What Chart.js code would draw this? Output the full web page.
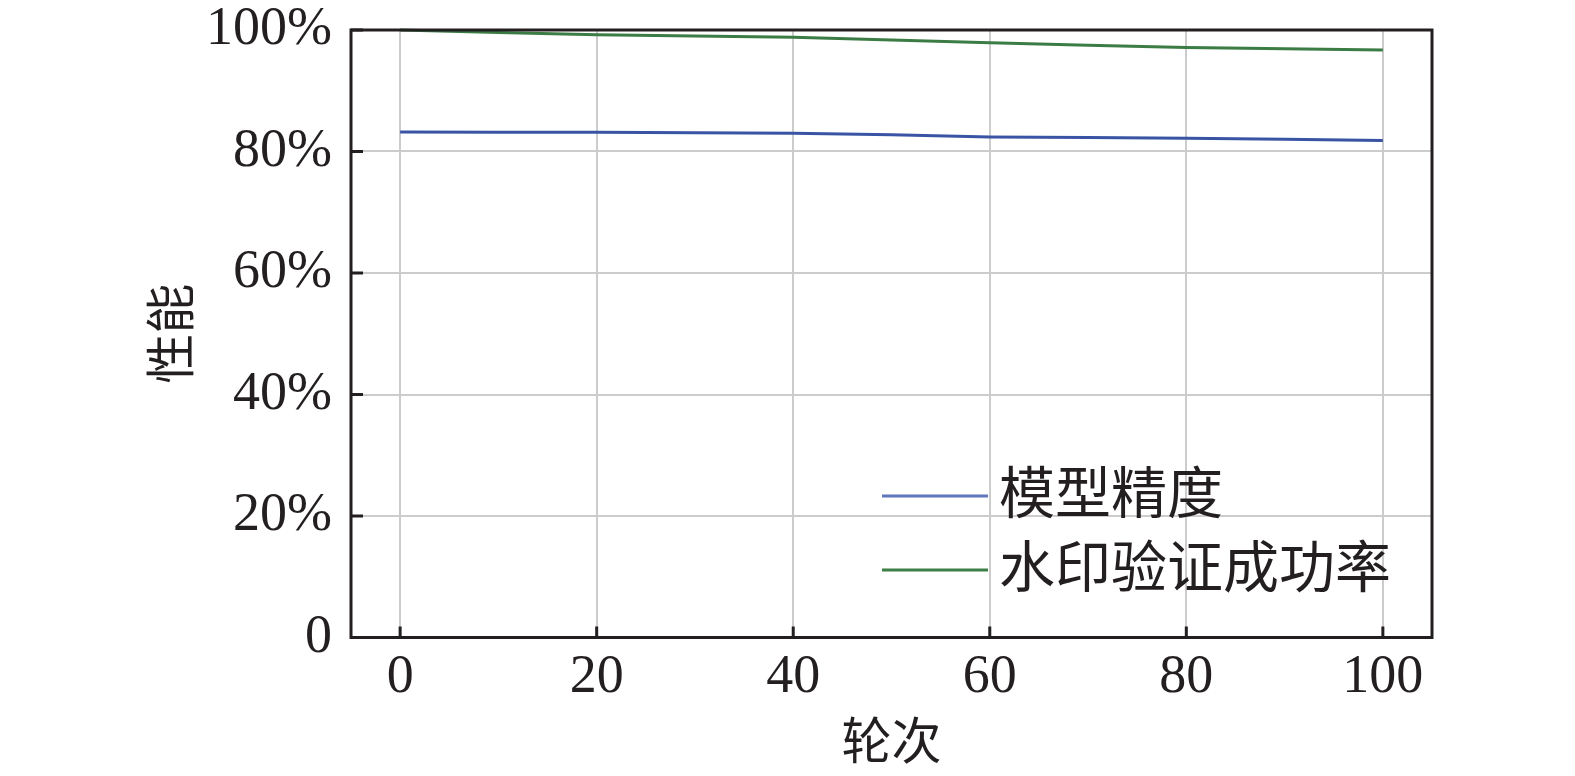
<!DOCTYPE html>
<html>
<head>
<meta charset="utf-8">
<script src="https://cdn.jsdelivr.net/npm/chart.js@4"></script>
<style>
    html, body { margin: 0; padding: 0; background: #ffffff; overflow: hidden; }
    #wrap { width: 1575px; height: 776px; }
</style>
</head>
<body>
<div id="wrap"><canvas id="perfChart"></canvas></div>
<script>
// data
const rounds = [0, 10, 20, 30, 40, 50, 60, 70, 80, 90, 100];
const modelAccuracy = [83.2, 83.18, 83.15, 83.1, 83.0, 82.75, 82.4, 82.3, 82.2, 82.0, 81.8];
const watermarkRate = [100, 99.6, 99.2, 99.0, 98.8, 98.35, 97.9, 97.5, 97.1, 96.9, 96.7];
const xTicks = [0, 20, 40, 60, 80, 100];
const yTicks = [0, 20, 40, 60, 80, 100];
const seriesNames = ['模型精度', '水印验证成功率'];

const FONT = '"Liberation Serif", "Noto Sans CJK SC", serif';
const AXIS_COLOR = '#231f20';

function toPoints(xs, ys) {
    return xs.map(function(x, i) { return { x: x, y: ys[i] }; });
}

// inward tick marks + closed frame
const frameAndTicks = {
    id: 'frameAndTicks',
    afterDatasetsDraw(chart) {
        const ctx = chart.ctx;
        const area = chart.chartArea;
        const xs = chart.scales.x;
        const ys = chart.scales.y;
        ctx.save();
        ctx.strokeStyle = AXIS_COLOR;
        ctx.lineWidth = 3;
        ctx.beginPath();
        xs.ticks.forEach(function(t) {
            const px = xs.getPixelForValue(t.value);
            ctx.moveTo(px, area.bottom);
            ctx.lineTo(px, area.bottom - 11);
        });
        ys.ticks.forEach(function(t) {
            const py = ys.getPixelForValue(t.value);
            ctx.moveTo(area.left, py);
            ctx.lineTo(area.left + 12, py);
        });
        ctx.stroke();
        ctx.strokeRect(area.left, area.top, area.right - area.left, area.bottom - area.top);
        ctx.restore();
    }
};

// legend drawn inside the plot, bottom right
const innerLegend = {
    id: 'innerLegend',
    afterDraw(chart) {
        const ctx = chart.ctx;
        const area = chart.chartArea;
        const x0 = area.right - 550;
        const rowY = [area.bottom - 141.5, area.bottom - 67.5];
        ctx.save();
        ctx.font = '56px ' + FONT;
        ctx.textBaseline = 'middle';
        ctx.fillStyle = '#231f20';
        chart.data.datasets.forEach(function(ds, i) {
            ctx.strokeStyle = ds.legendColor;
            ctx.lineWidth = 3;
            ctx.beginPath();
            ctx.moveTo(x0, rowY[i]);
            ctx.lineTo(x0 + 106, rowY[i]);
            ctx.stroke();
            ctx.fillText(ds.label, x0 + 117, rowY[i] + 2);
        });
        ctx.restore();
    }
};

function initializeChart() {
    const ctx = document.getElementById('perfChart').getContext('2d');
    return new Chart(ctx, {
        type: 'line',
        data: {
            datasets: [{
                label: seriesNames[0],
                data: toPoints(rounds, modelAccuracy),
                borderColor: '#3a54a5',
                legendColor: '#5f76bb',
                borderWidth: 3,
                pointRadius: 0,
                tension: 0,
                clip: false
            }, {
                label: seriesNames[1],
                data: toPoints(rounds, watermarkRate),
                borderColor: '#3b7c44',
                legendColor: '#3e7e47',
                borderWidth: 3,
                pointRadius: 0,
                tension: 0,
                clip: false
            }]
        },
        options: {
            responsive: true,
            maintainAspectRatio: false,
            animation: false,
            layout: { padding: { left: 146, right: 143, top: 30, bottom: 0 } },
            plugins: {
                legend: { display: false },
                tooltip: { enabled: false }
            },
            scales: {
                x: {
                    type: 'linear',
                    min: -5,
                    max: 105,
                    afterBuildTicks: function(scale) {
                        scale.ticks = xTicks.map(function(v) { return { value: v }; });
                    },
                    afterFit: function(scale) {
                        scale.height = 138.5;
                        scale.paddingLeft = 0;
                        scale.paddingRight = 0;
                    },
                    border: { display: false },
                    grid: { color: '#cccccc', lineWidth: 2, drawTicks: false },
                    ticks: {
                        padding: 13,
                        color: '#231f20',
                        font: { family: FONT, size: 54, lineHeight: 1 },
                        maxRotation: 0
                    },
                    title: {
                        display: true,
                        text: '轮次',
                        color: '#231f20',
                        font: { family: FONT, size: 50, lineHeight: 1.2 },
                        padding: { top: 0, bottom: 0 }
                    }
                },
                y: {
                    min: 0,
                    max: 100,
                    afterBuildTicks: function(scale) {
                        scale.ticks = yTicks.map(function(v) { return { value: v }; });
                    },
                    afterFit: function(scale) {
                        scale.width = 205;
                        scale.paddingTop = 0;
                        scale.paddingBottom = 0;
                    },
                    border: { display: false },
                    grid: { color: '#cccccc', lineWidth: 2, drawTicks: false },
                    ticks: {
                        padding: 19,
                        color: '#231f20',
                        font: { family: FONT, size: 54, lineHeight: 1 },
                        callback: function(v) { return v === 0 ? '0' : v + '%'; }
                    },
                    title: {
                        display: true,
                        text: '性能',
                        color: '#231f20',
                        font: { family: FONT, size: 50, lineHeight: 1.2 },
                        padding: { top: 0, bottom: 0 }
                    }
                }
            }
        },
        plugins: [frameAndTicks, innerLegend]
    });
}

initializeChart();
</script>
</body>
</html>
